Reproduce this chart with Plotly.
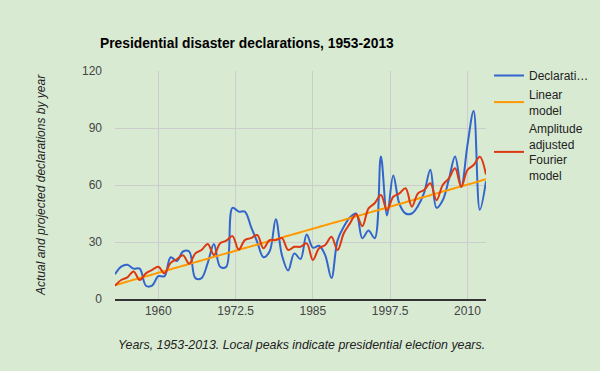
import plotly.graph_objects as go

years = list(range(1953, 2014))

declarations = [13, 17, 18, 16, 16, 7, 7, 12, 12, 22, 20, 25, 25, 11, 11, 19, 29, 17, 17, 48,
                46, 46, 38, 30, 22, 25, 42, 23, 15, 24, 21, 34, 27, 28, 23, 11, 31, 38, 43, 45,
                32, 36, 32, 75, 44, 65, 50, 45, 45, 49, 56, 68, 48, 52, 63, 75, 59, 81, 99, 47, 62]

linear_model = [7.3, 8.2, 9.2, 10.1, 11.0, 11.9, 12.9, 13.8, 14.7, 15.7, 16.6, 17.5, 18.4, 19.4,
                20.3, 21.2, 22.2, 23.1, 24.0, 24.9, 25.9, 26.8, 27.7, 28.6, 29.6, 30.5, 31.4,
                32.4, 33.3, 34.2, 35.1, 36.1, 37.0, 37.9, 38.9, 39.8, 40.7, 41.6, 42.6, 43.5,
                44.4, 45.4, 46.3, 47.2, 48.1, 49.1, 50.0, 50.9, 51.9, 52.8, 53.7, 54.6, 55.6,
                56.5, 57.4, 58.4, 59.3, 60.2, 61.1, 62.1, 63.0]

fourier_model = [7.0, 10.0, 11.4, 14.5, 10.0, 13.5, 15.3, 17.0, 13.5, 19.0, 20.9, 23.0, 18.6,
                 24.0, 25.8, 29.0, 23.2, 29.3, 30.7, 33.1, 26.0, 31.0, 32.0, 33.7, 26.7, 31.0,
                 31.0, 32.0, 25.8, 27.5, 27.5, 29.3, 20.5, 26.7, 28.4, 32.8, 25.8, 34.6, 39.8,
                 44.6, 38.3, 47.7, 50.4, 54.7, 46.8, 53.8, 55.6, 58.3, 48.6, 55.6, 57.4, 60.9,
                 52.0, 60.0, 63.5, 68.8, 59.1, 67.9, 70.5, 74.9, 65.5]

series_names = ["Declarati…", "Linear<br>model", "Amplitude<br>adjusted<br>Fourier<br>model"]
series_colors = ["#3366cc", "#ff9900", "#dc3912"]

x_tick_vals = [1960, 1972.5, 1985, 1997.5, 2010]
x_tick_text = ["1960", "1972.5", "1985", "1997.5", "2010"]
y_tick_vals = [0, 30, 60, 90, 120]

title_text = "Presidential disaster declarations, 1953-2013"
x_title = "Years, 1953-2013. Local peaks indicate presidential election years."
y_title = "Actual and projected declarations by year"

bg = "#d9ead3"
font_family = "Arial, Liberation Sans, sans-serif"

fig = go.Figure()
for name, vals, col in zip(series_names, [declarations, linear_model, fourier_model], series_colors):
    fig.add_trace(go.Scatter(
        x=years, y=vals, name=name, mode="lines",
        line=dict(color=col, width=2, shape="spline", smoothing=1.0),
    ))

W, H = 600, 371
L, R, T, B = 115, 114, 71, 72
pw = W - L - R
ph = H - T - B

fig.update_layout(
    width=W, height=H,
    margin=dict(l=L, r=R, t=T, b=B, pad=0, autoexpand=False),
    paper_bgcolor=bg, plot_bgcolor=bg,
    font=dict(family=font_family, size=12, color="#444444"),
    showlegend=True,
    legend=dict(
        xref="container", yref="container",
        x=489 / W, xanchor="left", y=1 - 61 / H, yanchor="top",
        bgcolor="rgba(0,0,0,0)", font=dict(size=12, color="#222222"),
        itemwidth=30, tracegroupgap=0,
    ),
    xaxis=dict(
        range=[1953, 2013], tickmode="array", tickvals=x_tick_vals, ticktext=x_tick_text,
        showgrid=True, gridcolor="#cccccc", gridwidth=1, zeroline=False,
        showline=True, linecolor="#333333", linewidth=1.5,
        ticks="", tickfont=dict(size=12, color="#444444"),
    ),
    yaxis=dict(
        range=[0, 120], tickmode="array", tickvals=y_tick_vals,
        showgrid=True, gridcolor="#cccccc", gridwidth=1, zeroline=False,
        showline=False, ticks="", ticklabelstandoff=12,
        tickfont=dict(size=12, color="#444444"),
    ),
    annotations=[
        dict(text="<b>" + title_text + "</b>", xref="paper", yref="paper",
             x=(98 - L) / pw, y=1 + (T - 44) / ph, xanchor="left", yanchor="middle",
             showarrow=False, font=dict(size=13.8, color="#000000", family=font_family)),
        dict(text="<i>" + y_title + "</i>", xref="paper", yref="paper", textangle=-90,
             x=(41 - L) / pw, y=0.5, xanchor="center", yanchor="middle",
             showarrow=False, font=dict(size=12, color="#222222", family=font_family)),
        dict(text="<i>" + x_title + "</i>", xref="paper", yref="paper",
             x=(301 - L) / pw, y=-(345 - (H - B)) / ph, xanchor="center", yanchor="middle",
             showarrow=False, font=dict(size=12.4, color="#222222", family=font_family)),
    ],
)

fig.write_html("out.html", config={"displayModeBar": False},
               post_script="document.body.style.margin='0';document.body.style.overflow='hidden';")
